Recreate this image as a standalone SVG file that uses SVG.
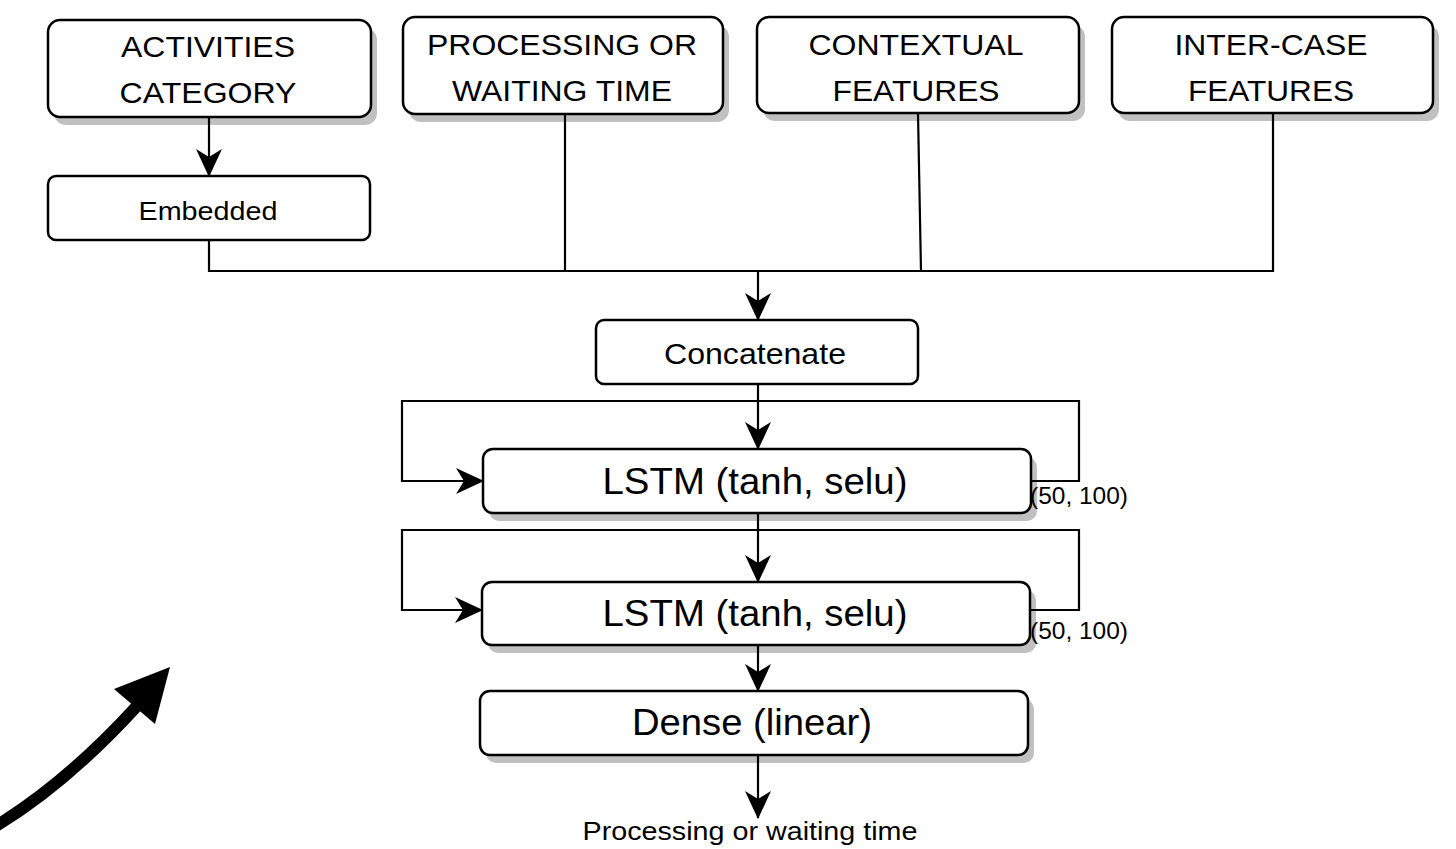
<svg xmlns="http://www.w3.org/2000/svg" width="1456" height="849" viewBox="0 0 1456 849">
<style>
.box{fill:#fff;stroke:#000;stroke-width:2.5}
.shadow{fill:#c0c0c0;stroke:none}
.t{font-family:"Liberation Sans",Arial,sans-serif;fill:#000;text-anchor:middle}
.c{fill:none;stroke:#000;stroke-width:2.2}
</style>
<defs>
<marker id="arr" markerUnits="userSpaceOnUse" markerWidth="28" markerHeight="26" viewBox="0 0 28 26" refX="27" refY="13" orient="auto">
<path d="M0,0 L28,13 L0,26 L8,13 z" fill="#000"/>
</marker>
</defs>
<rect width="1456" height="849" fill="#fff"/>

<g id="activities">
<rect class="shadow" x="54" y="28" width="323" height="97" rx="12"/>
<rect class="box" x="48" y="20" width="323" height="97" rx="12"/>
<text class="t" x="208" y="57" font-size="30" textLength="174" lengthAdjust="spacingAndGlyphs">ACTIVITIES</text>
<text class="t" x="208" y="103" font-size="30" textLength="177" lengthAdjust="spacingAndGlyphs">CATEGORY</text>
</g>
<g id="processing">
<rect class="shadow" x="409" y="25" width="320" height="97" rx="12"/>
<rect class="box" x="403" y="17" width="320" height="97" rx="12"/>
<text class="t" x="562" y="55" font-size="30" textLength="270" lengthAdjust="spacingAndGlyphs">PROCESSING OR</text>
<text class="t" x="562" y="101" font-size="30" textLength="220" lengthAdjust="spacingAndGlyphs">WAITING TIME</text>
</g>
<g id="contextual">
<rect class="shadow" x="763" y="25" width="322" height="96" rx="12"/>
<rect class="box" x="757" y="17" width="322" height="96" rx="12"/>
<text class="t" x="916" y="55" font-size="30" textLength="215" lengthAdjust="spacingAndGlyphs">CONTEXTUAL</text>
<text class="t" x="916" y="101" font-size="30" textLength="167" lengthAdjust="spacingAndGlyphs">FEATURES</text>
</g>
<g id="intercase">
<rect class="shadow" x="1118" y="25" width="321" height="96" rx="12"/>
<rect class="box" x="1112" y="17" width="321" height="96" rx="12"/>
<text class="t" x="1271" y="55" font-size="30" textLength="193" lengthAdjust="spacingAndGlyphs">INTER-CASE</text>
<text class="t" x="1271" y="101" font-size="30" textLength="166" lengthAdjust="spacingAndGlyphs">FEATURES</text>
</g>
<g id="embedded">
<rect class="box" x="48" y="176" width="322" height="64" rx="8"/>
<text class="t" x="208" y="220" font-size="26" textLength="139" lengthAdjust="spacingAndGlyphs">Embedded</text>
</g>
<g id="concatenate">
<rect class="box" x="596" y="320" width="322" height="64" rx="8"/>
<text class="t" x="755" y="364" font-size="30" textLength="182" lengthAdjust="spacingAndGlyphs">Concatenate</text>
</g>
<g id="lstm1">
<rect class="shadow" x="489" y="457" width="548" height="64" rx="10"/>
<rect class="box" x="483" y="449" width="548" height="64" rx="10"/>
<text class="t" x="755" y="494" font-size="37" textLength="305" lengthAdjust="spacingAndGlyphs">LSTM (tanh, selu)</text>
</g>
<g id="lstm2">
<rect class="shadow" x="488" y="590" width="548" height="63" rx="10"/>
<rect class="box" x="482" y="582" width="548" height="63" rx="10"/>
<text class="t" x="755" y="626" font-size="37" textLength="305" lengthAdjust="spacingAndGlyphs">LSTM (tanh, selu)</text>
</g>
<g id="dense">
<rect class="shadow" x="486" y="699" width="548" height="64" rx="10"/>
<rect class="box" x="480" y="691" width="548" height="64" rx="10"/>
<text class="t" x="752" y="735" font-size="37" textLength="240" lengthAdjust="spacingAndGlyphs">Dense (linear)</text>
</g>

<g id="connectors">
<path class="c" d="M209,117 V176" marker-end="url(#arr)"/>
<path class="c" d="M209,240 V271 H1273 V113"/>
<path class="c" d="M565,114 V271"/>
<path class="c" d="M918,113 L921,271"/>
<path class="c" d="M758,271 V320" marker-end="url(#arr)"/>
<path class="c" d="M758,384 V449" marker-end="url(#arr)"/>
<path class="c" d="M1031,481 H1079 V401 H402 V481 H483" marker-end="url(#arr)"/>
<path class="c" d="M758,513 V582" marker-end="url(#arr)"/>
<path class="c" d="M1030,610 H1079 V530 H402 V610 H482" marker-end="url(#arr)"/>
<path class="c" d="M758,645 V691" marker-end="url(#arr)"/>
<path class="c" d="M758,755 V818" marker-end="url(#arr)"/>
<text class="t" x="1079" y="504" font-size="24" textLength="98" lengthAdjust="spacingAndGlyphs">(50, 100)</text>
<text class="t" x="1079" y="639" font-size="24" textLength="98" lengthAdjust="spacingAndGlyphs">(50, 100)</text>
<text class="t" x="750" y="840" font-size="26" textLength="335" lengthAdjust="spacingAndGlyphs">Processing or waiting time</text>
</g>

<g id="big-arrow">
<path d="M-4,826 C45,796 95,752 137,706" fill="none" stroke="#000" stroke-width="12"/>
<polygon points="170,667 155,724 114,689" fill="#000"/>
</g>
</svg>
